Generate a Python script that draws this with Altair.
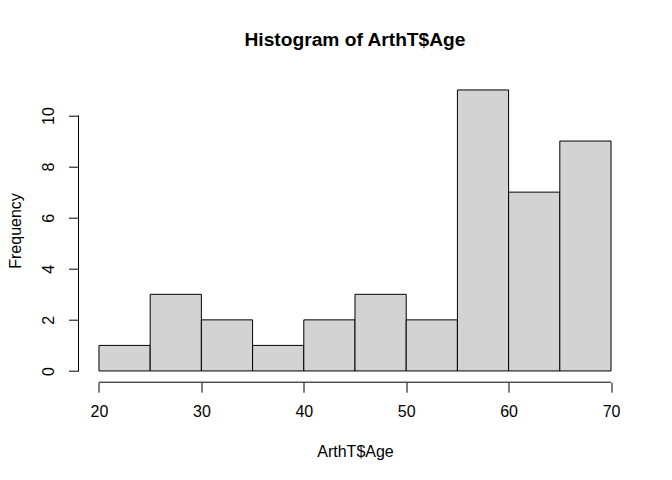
import altair as alt
import pandas as pd

bin_starts = [20, 25, 30, 35, 40, 45, 50, 55, 60, 65]
bin_ends = [25, 30, 35, 40, 45, 50, 55, 60, 65, 70]
counts = [1, 3, 2, 1, 2, 3, 2, 11, 7, 9]
x_ticks = [20, 30, 40, 50, 60, 70]
y_ticks = [0, 2, 4, 6, 8, 10]

FONT = "Liberation Sans"
W, H = 553, 303.5

bars = pd.DataFrame({"start": bin_starts, "end": bin_ends, "count": counts})
xaxis_df = pd.DataFrame({"a": [min(x_ticks)], "b": [max(x_ticks)]})
yaxis_df = pd.DataFrame({"a": [min(y_ticks)], "b": [max(y_ticks)]})

xscale = alt.Scale(domain=[18, 72], nice=False, zero=False)
yscale = alt.Scale(domain=[-0.44, 11.44], nice=False, zero=False)

rects = alt.Chart(bars).mark_rect(fill="#D3D3D3", stroke="black", strokeWidth=1).encode(
    x=alt.X("start:Q", scale=xscale,
            axis=alt.Axis(values=x_ticks, title="ArthT$Age", domain=False, grid=False,
                          tickColor="black", tickSize=10, tickWidth=1,
                          labelFont=FONT, labelFontSize=16, labelColor="black",
                          labelBaseline="alphabetic", labelPadding=24,
                          titleFont=FONT, titleFontSize=16, titleFontWeight="normal",
                          titleColor="black", titleBaseline="alphabetic",
                          titleY=74, titleX=W / 2, titleAlign="center")),
    x2="end:Q",
    y=alt.Y("count:Q", scale=yscale,
            axis=alt.Axis(values=y_ticks, title="Frequency", domain=False, grid=False,
                          tickColor="black", tickSize=10, tickWidth=1,
                          labelFont=FONT, labelFontSize=16, labelColor="black",
                          labelAngle=-90, labelAlign="center", labelBaseline="alphabetic",
                          labelPadding=15,
                          titleFont=FONT, titleFontSize=16, titleFontWeight="normal",
                          titleColor="black", titleBaseline="alphabetic", titleAngle=-90,
                          titleX=-58, titleY=H / 2, titleAlign="center")),
    y2=alt.datum(0),
)

xline = alt.Chart(xaxis_df).mark_rule(color="black", strokeWidth=1).encode(
    x=alt.X("a:Q", scale=xscale), x2="b:Q", y=alt.value(H)
)
yline = alt.Chart(yaxis_df).mark_rule(color="black", strokeWidth=1).encode(
    y=alt.Y("a:Q", scale=yscale), y2="b:Q", x=alt.value(0)
)

chart = alt.layer(rects, xline, yline).properties(
    width=W, height=H,
    title=alt.TitleParams(text="Histogram of ArthT$Age", font=FONT, fontSize=19.2,
                          fontWeight="bold", color="black", anchor="middle",
                          baseline="alphabetic", offset=13.7),
    autosize=alt.AutoSizeParams(type="none"),
    padding={"left": 70.5, "top": 70.7, "right": 32.5, "bottom": 89.8},
).configure(background="white").configure_view(stroke="transparent", strokeWidth=0)

chart.save("out.html", embed_options={"renderer": "svg", "actions": False})
